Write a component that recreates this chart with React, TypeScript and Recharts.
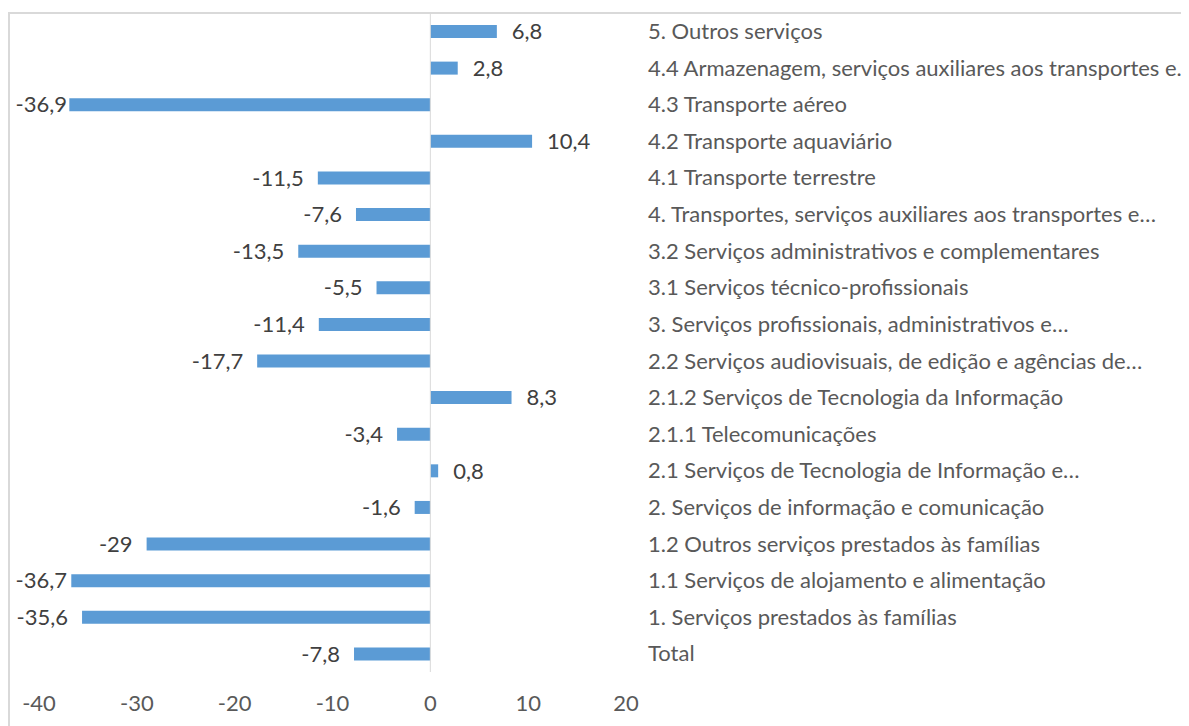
// @ts-nocheck
import { BarChart, Bar, XAxis, YAxis, ReferenceLine, LabelList } from 'recharts';

const categories = [
  '5. Outros serviços',
  '4.4 Armazenagem, serviços auxiliares aos transportes e…',
  '4.3 Transporte aéreo',
  '4.2 Transporte aquaviário',
  '4.1 Transporte terrestre',
  '4. Transportes, serviços auxiliares aos transportes e…',
  '3.2 Serviços administrativos e complementares',
  '3.1 Serviços técnico-profissionais',
  '3. Serviços profissionais, administrativos e…',
  '2.2 Serviços audiovisuais, de edição e agências de…',
  '2.1.2 Serviços de Tecnologia da Informação',
  '2.1.1 Telecomunicações',
  '2.1 Serviços de Tecnologia de Informação e…',
  '2. Serviços de informação e comunicação',
  '1.2 Outros serviços prestados às famílias',
  '1.1 Serviços de alojamento e alimentação',
  '1. Serviços prestados às famílias',
  'Total',
];

const values = [6.8, 2.8, -36.9, 10.4, -11.5, -7.6, -13.5, -5.5, -11.4, -17.7, 8.3, -3.4, 0.8, -1.6, -29, -36.7, -35.6, -7.8];

const xTicks = [-40, -30, -20, -10, 0, 10, 20];

const data = categories.map((name, i) => ({ name, value: values[i] }));

const FONT = 'Lato, "Open Sans", sans-serif';
const FS = 22;
const fmt = (v: number) => String(v).replace('.', ',');

const CategoryTick = (props: any) => {
  const { x, y, payload } = props;
  return (
    <text x={x + 22} y={y} dy="0.35em" textAnchor="start" fill="#595959" fontSize={FS} fontFamily={FONT}>
      {payload.value}
    </text>
  );
};

const ValueLabel = (props: any) => {
  const { x, y, width, height, value } = props;
  const left = Math.min(x, x + width);
  const right = Math.max(x, x + width);
  const cy = y + height / 2;
  if (value >= 0) {
    return (
      <text x={right + 15} y={cy} dy="0.35em" textAnchor="start" fill="#404040" fontSize={FS} fontFamily={FONT}>
        {fmt(value)}
      </text>
    );
  }
  return (
    <text x={Math.max(left - 14, 59)} y={cy} dy="0.35em" textAnchor="end" fill="#404040" fontSize={FS} fontFamily={FONT}>
      {fmt(value)}
    </text>
  );
};

export default function App() {
  return (
    <div style={{ position: 'relative', width: 1181, height: 718, overflow: 'hidden', background: '#fff' }}>
      <div
        style={{
          position: 'absolute',
          left: 0,
          top: 4,
          width: 1300,
          height: 800,
          borderTop: '2px solid #d9d9d9',
          borderLeft: '2px solid #d9d9d9',
        }}
      />
      <div style={{ position: 'absolute', left: 0, top: 0 }}>
        <BarChart
          width={1181}
          height={718}
          data={data}
          layout="vertical"
          margin={{ top: 5, right: 0, bottom: 0, left: 31 }}
          barSize={13}
        >
          <XAxis
            type="number"
            domain={[-40, 20]}
            ticks={xTicks}
            allowDataOverflow
            axisLine={false}
            tickLine={false}
            tickSize={0}
            tickMargin={23}
            height={54}
            tick={{ fill: '#595959', fontSize: FS, fontFamily: FONT }}
          />
          <YAxis
            type="category"
            dataKey="name"
            orientation="right"
            width={563}
            axisLine={false}
            tickLine={false}
            tickSize={0}
            tickMargin={0}
            interval={0}
            tick={<CategoryTick />}
          />
          <ReferenceLine x={0} stroke="#d9d9d9" strokeWidth={1} />
          <Bar dataKey="value" fill="#5b9bd5" isAnimationActive={false}>
            <LabelList dataKey="value" content={<ValueLabel />} />
          </Bar>
        </BarChart>
      </div>
    </div>
  );
}
